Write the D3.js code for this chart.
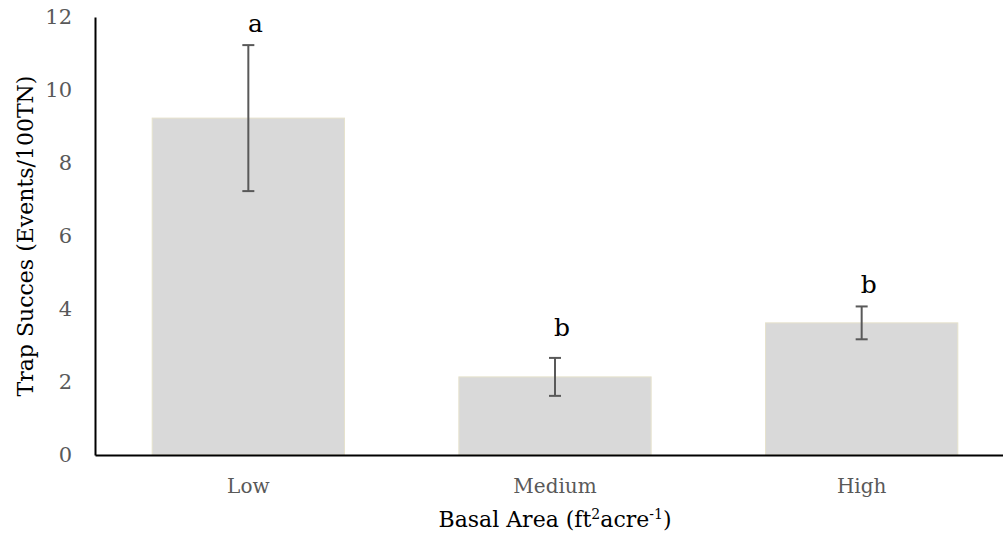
<!DOCTYPE html>
<html>
<head>
<meta charset="utf-8">
<script src="https://cdn.jsdelivr.net/npm/d3@7"></script>
<style>
  body { margin: 0; background: #fff; }
  text { font-family: "DejaVu Serif", serif; }
</style>
</head>
<body>
<svg id="chart" width="1003" height="540"></svg>
<script>
let categories = ["Low", "Medium", "High"];
let means = [9.23, 2.14, 3.62];
let errors = [2.0, 0.52, 0.45];
let letters = ["a", "b", "b"];
let letterAt = [11.6, 3.25, 4.45];
let yTicks = [0, 2, 4, 6, 8, 10, 12];

let margins = { top: 17, right: -12, bottom: 85, left: 95 };
let width = 1003 - margins.left - margins.right;
let height = 540 - margins.top - margins.bottom;

let xScale = d3.scaleBand().domain(categories).range([0, width]).paddingInner(0.373).paddingOuter(0.1865);
let yScale = d3.scaleLinear().domain([0, 12]).range([height, 0]);

let svg = d3.select("#chart");
let graph = svg.append("g")
  .attr("transform", "translate(" + margins.left + "," + margins.top + ")");

// bars
graph.selectAll(".bar")
  .data(categories)
  .enter()
  .append("rect")
  .attr("class", "bar")
  .attr("x", function(d) { return xScale(d); })
  .attr("width", xScale.bandwidth())
  .attr("y", function(d, i) { return yScale(means[i]); })
  .attr("height", function(d, i) { return height - yScale(means[i]); })
  .style("fill", "#d9d9d9")
  .style("stroke", "#e6e2cc")
  .style("stroke-width", 1);

// error bars
let cap = 6;
let err = graph.selectAll(".err")
  .data(categories)
  .enter()
  .append("g")
  .attr("class", "err")
  .attr("transform", function(d) { return "translate(" + (xScale(d) + xScale.bandwidth() / 2) + ",0)"; })
  .style("stroke", "#595959")
  .style("stroke-width", 2);
err.append("line")
  .attr("y1", function(d, i) { return yScale(means[i] + errors[i]); })
  .attr("y2", function(d, i) { return yScale(means[i] - errors[i]); });
err.append("line")
  .attr("x1", -cap).attr("x2", cap)
  .attr("y1", function(d, i) { return yScale(means[i] + errors[i]); })
  .attr("y2", function(d, i) { return yScale(means[i] + errors[i]); });
err.append("line")
  .attr("x1", -cap).attr("x2", cap)
  .attr("y1", function(d, i) { return yScale(means[i] - errors[i]); })
  .attr("y2", function(d, i) { return yScale(means[i] - errors[i]); });

// significance letters
graph.selectAll(".letter")
  .data(categories)
  .enter()
  .append("text")
  .attr("class", "letter")
  .attr("x", function(d) { return xScale(d) + xScale.bandwidth() / 2 + 7; })
  .attr("y", function(d, i) { return yScale(letterAt[i]); })
  .attr("text-anchor", "middle")
  .style("font-size", "25px")
  .style("fill", "#000")
  .text(function(d, i) { return letters[i]; });

// y axis
let yAxis = d3.axisLeft(yScale).tickValues(yTicks).tickSize(0).tickPadding(23);
let yg = graph.append("g").call(yAxis);
yg.select(".domain").style("stroke", "#000").style("stroke-width", 2);
yg.selectAll("text").style("font-size", "21px").style("fill", "#595959");

// x axis
let xAxis = d3.axisBottom(xScale).tickSize(0).tickPadding(24);
let xg = graph.append("g")
  .attr("transform", "translate(0," + height + ")")
  .call(xAxis);
xg.select(".domain").style("stroke", "#000").style("stroke-width", 2);
xg.selectAll("text").style("font-size", "20px").style("fill", "#595959");

// axis titles
let xt = svg.append("text")
  .attr("x", 555)
  .attr("y", 527)
  .attr("text-anchor", "middle")
  .style("font-size", "22px")
  .style("fill", "#000");
xt.append("tspan").text("Basal Area (ft");
xt.append("tspan").attr("dy", -8).style("font-size", "14px").text("2");
xt.append("tspan").attr("dy", 8).text("acre");
xt.append("tspan").attr("dy", -8).style("font-size", "14px").text("-1");
xt.append("tspan").attr("dy", 8).text(")");

svg.append("text")
  .attr("transform", "translate(33," + (margins.top + height / 2) + ") rotate(-90)")
  .attr("text-anchor", "middle")
  .style("font-size", "22px")
  .style("fill", "#000")
  .text("Trap Succes (Events/100TN)");
</script>
</body>
</html>
